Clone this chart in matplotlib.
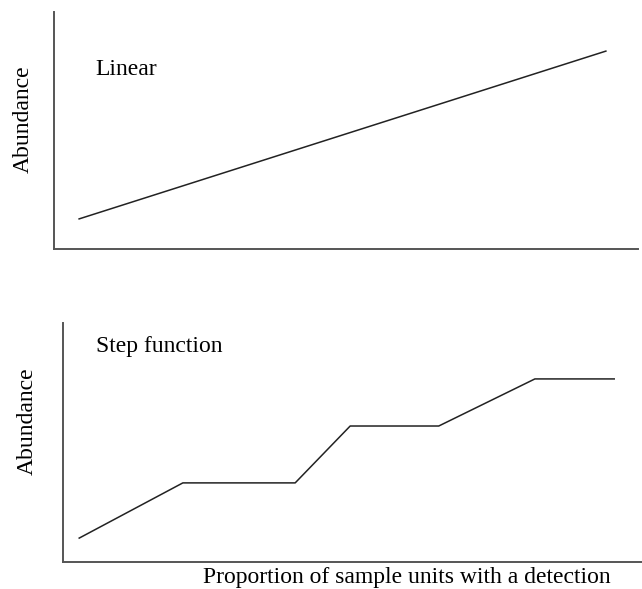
import matplotlib
matplotlib.use("Agg")
import matplotlib.pyplot as plt

plt.rcParams['font.family'] = ['Liberation Serif', 'DejaVu Serif']

W, H = 642, 589
DPI = 100

# Data
linear_x = [0.043, 0.945]
linear_y = [0.127, 0.835]
step_x = [0.028, 0.207, 0.401, 0.496, 0.649, 0.815, 0.952]
step_y = [0.100, 0.331, 0.331, 0.569, 0.569, 0.766, 0.766]
panel_titles = ["Linear", "Step function"]
y_label = "Abundance"
x_label = "Proportion of sample units with a detection"

fig = plt.figure(figsize=(W / DPI, H / DPI), dpi=DPI)

def ax_px(left, right, top, bottom):
    return fig.add_axes([left / W, 1 - bottom / H, (right - left) / W, (bottom - top) / H])

spine_col = '#555555'
line_col = '#222222'
fs = 17

ax1 = ax_px(54, 638, 12, 249)
ax2 = ax_px(63, 642, 323, 562)

for ax in (ax1, ax2):
    ax.set_xlim(0, 1)
    ax.set_ylim(0, 1)
    ax.set_xticks([])
    ax.set_yticks([])
    for s in ('top', 'right'):
        ax.spines[s].set_visible(False)
    for s in ('left', 'bottom'):
        ax.spines[s].set_color(spine_col)
        ax.spines[s].set_linewidth(1.4)

ax1.plot(linear_x, linear_y, color=line_col, lw=1.1)
ax2.plot(step_x, step_y, color=line_col, lw=1.1)

ax1.text(0.070, 0.734, panel_titles[0], transform=ax1.transAxes, fontsize=fs,
         ha='left', va='baseline')
ax2.text(0.057, 0.879, panel_titles[1], transform=ax2.transAxes, fontsize=fs,
         ha='left', va='baseline')

fig.text(23 / W, 1 - 119 / H, y_label, rotation=90, fontsize=fs, ha='center', va='center')
fig.text(27 / W, 1 - 421 / H, y_label, rotation=90, fontsize=fs, ha='center', va='center')
fig.text(407 / W, 6 / H, x_label, fontsize=fs, ha='center', va='baseline')

fig.savefig('out.png', dpi=DPI)
